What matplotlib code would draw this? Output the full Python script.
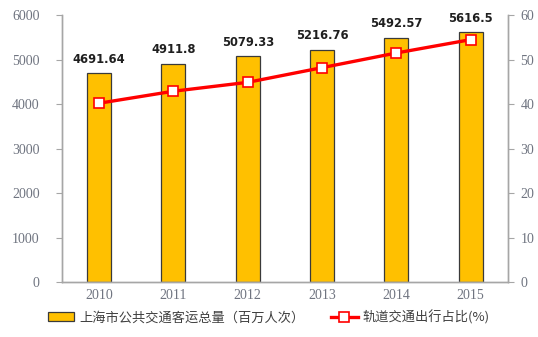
import matplotlib
matplotlib.use("Agg")
import matplotlib.pyplot as plt
import numpy as np

years = ["2010", "2011", "2012", "2013", "2014", "2015"]
passengers = [4691.64, 4911.8, 5079.33, 5216.76, 5492.57, 5616.5]   # 百万人次
rail_share = [40.2, 42.9, 44.9, 48.2, 51.5, 54.5]                     # %

cjk = ['Noto Sans CJK SC', 'DejaVu Sans']
tick_color = '#6f7480'
spine_color = '#a6a6a6'

fig = plt.figure(figsize=(5.38, 3.37), dpi=100)
ax = fig.add_axes([0.115, 0.163, 0.829, 0.792])
x = np.arange(len(years))

bars = ax.bar(x, passengers, width=0.32, color='#ffc000', edgecolor='#3a3a3a',
              linewidth=0.9, label='上海市公共交通客运总量（百万人次）', zorder=2)
for xi, v in zip(x, passengers):
    ax.text(xi, v + 170, f"{v:g}", ha='center', va='bottom', fontsize=8.3,
            fontweight='bold', color='#1f1f1f')

ax.set_ylim(0, 6000)
ax.set_yticks(range(0, 6001, 1000))
ax.set_xlim(-0.5, len(years) - 0.5)
ax.set_xticks(x)
ax.set_xticklabels(years)

ax2 = ax.twinx()
line, = ax2.plot(x, rail_share, color='#ff0000', linewidth=2.4, marker='s',
                 markersize=6.5, markerfacecolor='white', markeredgecolor='#ff0000',
                 markeredgewidth=1.2, label='轨道交通出行占比(%)', zorder=3)
ax2.set_ylim(0, 60)
ax2.set_yticks(range(0, 61, 10))

for a in (ax, ax2):
    a.spines['top'].set_visible(False)
    for s in ('left', 'right', 'bottom'):
        a.spines[s].set_color(spine_color)
        a.spines[s].set_linewidth(1.0)
    a.tick_params(colors=spine_color, labelcolor=tick_color, labelsize=10,
                  length=4, width=0.8)
    for lab in a.get_yticklabels() + a.get_xticklabels():
        lab.set_fontfamily('Liberation Serif')
ax.tick_params(axis='x', length=0, pad=5)
ax.tick_params(axis='y', pad=12)
ax2.tick_params(axis='y', pad=5)

fig.legend([bars, line], [bars.get_label(), line.get_label()], loc='center',
           bbox_to_anchor=(0.5, 0.059), ncol=2, frameon=False,
           prop={'family': cjk, 'size': 9.5}, handlelength=2.0, handletextpad=0.4,
           columnspacing=2.0, labelcolor='#404040')

fig.savefig("out.png", dpi=100)
